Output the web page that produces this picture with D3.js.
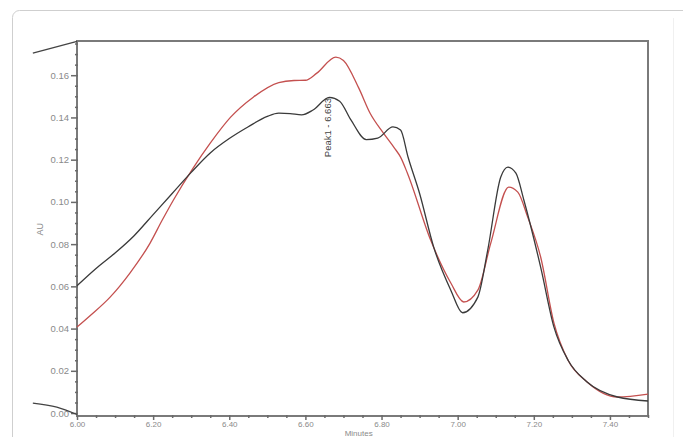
<!DOCTYPE html>
<html>
<head>
<meta charset="utf-8">
<script src="https://cdn.jsdelivr.net/npm/d3@7"></script>
<style>
  html, body { margin: 0; padding: 0; background: #fff; }
  svg { display: block; }
  .tick-label { font-family: "Liberation Sans", Arial, sans-serif; font-size: 8px; fill: #8a8a8a; }
</style>
</head>
<body>
<div id="chart"></div>
<script>
// --- data
const blackTimes = [6.00, 6.05, 6.10, 6.15, 6.20, 6.25, 6.30, 6.35, 6.40, 6.45, 6.50, 6.53, 6.56, 6.59, 6.62, 6.663, 6.69, 6.72, 6.76, 6.79, 6.83, 6.85, 6.87, 6.90, 6.937, 6.982, 7.013, 7.053, 7.079, 7.113, 7.132, 7.153, 7.174, 7.218, 7.253, 7.29, 7.34, 7.42, 7.50];
const blackAU    = [0.0603, 0.0685, 0.0758, 0.084, 0.094, 0.104, 0.114, 0.1232, 0.130, 0.1356, 0.1405, 0.142, 0.1418, 0.1412, 0.1435, 0.1495, 0.1477, 0.1387, 0.1295, 0.1302, 0.1355, 0.134, 0.121, 0.104, 0.0786, 0.0582, 0.0475, 0.0549, 0.0772, 0.1117, 0.1165, 0.1136, 0.1008, 0.0691, 0.0407, 0.025, 0.0147, 0.0076, 0.0057];

const redTimes = [6.00, 6.035, 6.087, 6.139, 6.192, 6.224, 6.253, 6.305, 6.35, 6.403, 6.463, 6.53, 6.57, 6.60, 6.63, 6.68, 6.70, 6.74, 6.77, 6.805, 6.834, 6.85, 6.868, 6.929, 6.982, 7.016, 7.053, 7.087, 7.134, 7.158, 7.184, 7.218, 7.253, 7.29, 7.34, 7.42, 7.50];
const redAU    = [0.0407, 0.0462, 0.0549, 0.0663, 0.0805, 0.0914, 0.1008, 0.116, 0.1278, 0.140, 0.1496, 0.1565, 0.1575, 0.1576, 0.161, 0.1686, 0.167, 0.154, 0.142, 0.1326, 0.1255, 0.1212, 0.1136, 0.0819, 0.0616, 0.0526, 0.0582, 0.0805, 0.107, 0.1046, 0.0928, 0.0739, 0.0426, 0.025, 0.0147, 0.0076, 0.009];

// stubs of trace drawn left of the frame in the original export
const stubTop = [[5.884, 0.1705], [6.00, 0.176]];
const stubBottom = [[5.884, 0.0047], [5.947, 0.0028], [6.00, -0.0007]];

const xMajor = [6.00, 6.20, 6.40, 6.60, 6.80, 7.00, 7.20, 7.40];
const yMajor = [0.00, 0.02, 0.04, 0.06, 0.08, 0.10, 0.12, 0.14, 0.16];

const peakLabel = { time: 6.663, au: 0.151, text: "Peak1 - 6.663" };

const width = 683, height = 437;
const plot = { left: 77, right: 648, top: 41, bottom: 416 };

const svg = d3.select("#chart").append("svg")
  .attr("width", width)
  .attr("height", height);

// card outline
svg.append("rect")
  .attr("x", 12.5).attr("y", 10.5)
  .attr("width", 700).attr("height", 460)
  .attr("rx", 7)
  .attr("fill", "#fff")
  .attr("stroke", "#cfcfcf");
svg.append("line")
  .attr("x1", 673.5).attr("x2", 673.5).attr("y1", 18).attr("y2", height)
  .attr("stroke", "#f0f0f0");

const x = d3.scaleLinear().domain([6.0, 7.5]).range([plot.left, plot.right]);
const y = d3.scaleLinear().domain([-0.0014, 0.1762]).range([plot.bottom, plot.top]);

const line = d3.line()
  .x(d => x(d[0]))
  .y(d => y(d[1]))
  .curve(d3.curveMonotoneX);

// frame
svg.append("rect")
  .attr("x", plot.left).attr("y", plot.top)
  .attr("width", plot.right - plot.left)
  .attr("height", plot.bottom - plot.top)
  .attr("fill", "none")
  .attr("stroke", "#7a7a7a")
  .attr("stroke-width", 2);

const isMajor = (list, d) => list.some(m => Math.abs(m - d) < 1e-6);

// axes
const xAxis = d3.axisBottom(x)
  .tickValues(d3.range(6.0, 7.5001, 0.05))
  .tickSize(3)
  .tickFormat(d => isMajor(xMajor, d) ? d3.format(".2f")(d) : "");
const gx = svg.append("g").attr("transform", `translate(0,${plot.bottom})`).call(xAxis);
gx.select(".domain").remove();
gx.selectAll(".tick line")
  .attr("stroke", "#6a6a6a")
  .attr("stroke-width", 1.5)
  .attr("y1", -1)
  .attr("y2", d => isMajor(xMajor, d) ? 4 : 2);
gx.selectAll(".tick text").attr("class", "tick-label").attr("dy", "0.5em").attr("y", 7);

const yAxis = d3.axisLeft(y)
  .tickValues(d3.range(0, 0.17501, 0.005))
  .tickSize(3)
  .tickFormat(d => isMajor(yMajor, d) ? d3.format(".2f")(d) : "");
const gy = svg.append("g").attr("transform", `translate(${plot.left},0)`).call(yAxis);
gy.select(".domain").remove();
gy.selectAll(".tick line")
  .attr("stroke", "#6a6a6a")
  .attr("stroke-width", 1.5)
  .attr("x1", 1)
  .attr("x2", d => isMajor(yMajor, d) ? -6 : -2);
gy.selectAll(".tick text")
  .attr("class", "tick-label")
  .style("font-size", "9.5px")
  .attr("x", -8);

// axis titles
svg.append("text")
  .attr("class", "tick-label")
  .style("font-size", "9px")
  .attr("transform", `translate(43,${y(0.087)}) rotate(-90)`)
  .attr("text-anchor", "middle")
  .text("AU");
svg.append("text")
  .attr("class", "tick-label")
  .attr("x", x(6.74)).attr("y", 436)
  .attr("text-anchor", "middle")
  .text("Minutes");

// traces
const blackData = blackTimes.map((t, i) => [t, blackAU[i]]);
const redData = redTimes.map((t, i) => [t, redAU[i]]);

svg.append("path").datum(redData)
  .attr("d", line)
  .attr("fill", "none")
  .attr("stroke", "#c4504f")
  .attr("stroke-width", 1.3);
svg.append("path").datum(blackData)
  .attr("d", line)
  .attr("fill", "none")
  .attr("stroke", "#3a3a3a")
  .attr("stroke-width", 1.3);

[stubTop, stubBottom].forEach(s => {
  svg.append("path").datum(s)
    .attr("d", line)
    .attr("fill", "none")
    .attr("stroke", "#444")
    .attr("stroke-width", 1.3);
});

// peak annotation (vertical text)
svg.append("text")
  .attr("transform", `translate(${x(peakLabel.time) - 2},${y(peakLabel.au) + 63}) rotate(-90)`)
  .attr("font-family", "Liberation Sans, Arial, sans-serif")
  .attr("font-size", 9.5)
  .attr("fill", "#444")
  .attr("dy", "0.35em")
  .text(peakLabel.text);
</script>
</body>
</html>
